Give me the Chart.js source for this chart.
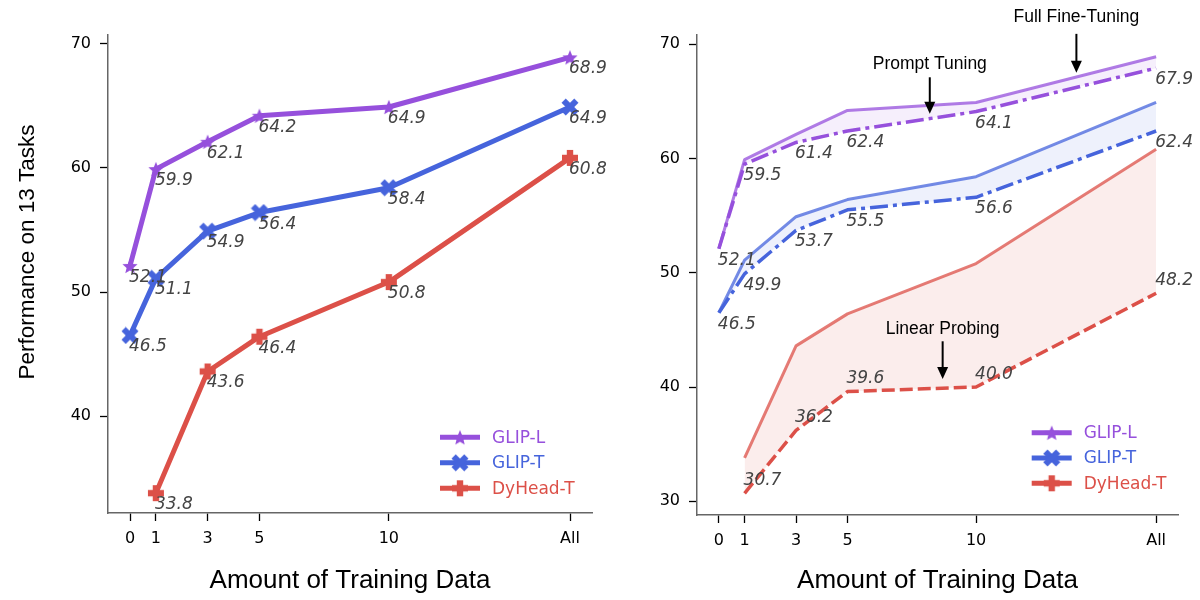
<!DOCTYPE html>
<html>
<head>
<meta charset="utf-8">
<script src="https://cdn.jsdelivr.net/npm/chart.js@4.4.1/dist/chart.umd.min.js"></script>
<style>
body { margin: 0; background: #fff; }
#wrap { position: relative; width: 1200px; height: 600px; }
#left { position: absolute; left: 0; top: 0; }
#right { position: absolute; left: 600px; top: 0; }
</style>
</head>
<body>
<div id="wrap">
  <canvas id="left" width="640" height="600"></canvas>
  <canvas id="right" width="600" height="600"></canvas>
</div>
<script>
// x positions of the training-data steps ("All" sits at 17 on the axis)
const xSteps = [0, 1, 3, 5, 10, 17];
const xTickLabels = ['0', '1', '3', '5', '10', 'All'];

// full fine-tuning
const glipL = [52.1, 59.9, 62.1, 64.2, 64.9, 68.9];
const glipT = [46.5, 51.1, 54.9, 56.4, 58.4, 64.9];
const dyheadT = [null, 33.8, 43.6, 46.4, 50.8, 60.8];

// prompt tuning / linear probing
const glipLPrompt = [52.1, 59.5, 61.4, 62.4, 64.1, 67.9];
const glipTPrompt = [46.5, 49.9, 53.7, 55.5, 56.6, 62.4];
const dyheadLinear = [null, 30.7, 36.2, 39.6, 40.0, 48.2];

const leftTicksY = [40, 50, 60, 70];
const rightTicksY = [30, 40, 50, 60, 70];

// arrows on the right panel (data coordinates)
const notes = [
    { text: 'Prompt Tuning', x: 8.2, textY: 67.85, from: 67.1, to: 63.9 },
    { text: 'Full Fine-Tuning', x: 13.9, textY: 71.95, from: 70.9, to: 67.5 },
    { text: 'Linear Probing', x: 8.7, textY: 44.6, from: 44.0, to: 40.7 }
];

const PURPLE = '#9650dc';
const BLUE = '#4664dc';
const RED = '#dc5048';

function pts(arr) {
    return xSteps.map((x, i) => ({ x: x, y: arr[i] })).filter(p => p.y !== null);
}

function marker(shape, color) {
    const size = 18;
    const c = document.createElement('canvas');
    c.width = c.height = size;
    const g = c.getContext('2d');
    g.fillStyle = color;
    g.translate(size / 2, size / 2);
    if (shape === 'star') {
        g.beginPath();
        for (let k = 0; k < 10; k++) {
            const r = k % 2 === 0 ? 8 : 3.6;
            const a = -Math.PI / 2 + k * Math.PI / 5;
            g.lineTo(r * Math.cos(a), r * Math.sin(a) + 0.8);
        }
        g.closePath();
        g.fill();
    } else if (shape === 'x') {
        g.rotate(Math.PI / 4);
        g.fillRect(-9, -3, 18, 6);
        g.fillRect(-3, -9, 6, 18);
    } else {
        g.fillRect(-8, -3.2, 16, 6.4);
        g.fillRect(-3.2, -8, 6.4, 16);
    }
    return c;
}

const starL = marker('star', PURPLE);
const xT = marker('x', BLUE);
const plusD = marker('plus', RED);

const legendItems = [
    { label: 'GLIP-L', color: PURPLE, marker: starL },
    { label: 'GLIP-T', color: BLUE, marker: xT },
    { label: 'DyHead-T', color: RED, marker: plusD }
];

const valueLabels = {
    id: 'valueLabels',
    afterDatasetsDraw(chart) {
        const ctx = chart.ctx;
        chart.data.datasets.forEach((ds, i) => {
            if (ds.valueDy === undefined) return;
            const meta = chart.getDatasetMeta(i);
            ctx.save();
            ctx.font = 'italic 17px "DejaVu Sans"';
            ctx.fillStyle = '#444';
            ctx.textAlign = 'left';
            ctx.textBaseline = 'alphabetic';
            meta.data.forEach((p, j) => {
                ctx.fillText(ds.data[j].y.toFixed(1), p.x - 1, p.y + ds.valueDy);
            });
            ctx.restore();
        });
    }
};

const cornerLegend = {
    id: 'cornerLegend',
    afterDraw(chart, args, opts) {
        const ctx = chart.ctx;
        const area = chart.chartArea;
        legendItems.forEach((it, i) => {
            const x0 = area.right - opts.right;
            const y = area.bottom - opts.bottom + i * opts.gap;
            ctx.save();
            ctx.strokeStyle = it.color;
            ctx.lineWidth = 5;
            ctx.beginPath();
            ctx.moveTo(x0, y);
            ctx.lineTo(x0 + 40, y);
            ctx.stroke();
            ctx.drawImage(it.marker, x0 + 20 - it.marker.width / 2, y - it.marker.height / 2);
            ctx.fillStyle = it.color;
            ctx.font = '17px "DejaVu Sans"';
            ctx.textBaseline = 'middle';
            ctx.fillText(it.label, x0 + 52, y + 1);
            ctx.restore();
        });
    }
};

// y title drawn by hand: it sits a little above the axis middle
const sideTitle = {
    id: 'sideTitle',
    afterDraw(chart, args, opts) {
        const ctx = chart.ctx;
        const area = chart.chartArea;
        ctx.save();
        ctx.translate(opts.x, (area.top + area.bottom) / 2 + opts.dy);
        ctx.rotate(-Math.PI / 2);
        ctx.font = '22.5px "Liberation Sans"';
        ctx.fillStyle = '#000';
        ctx.textAlign = 'center';
        ctx.textBaseline = 'middle';
        ctx.fillText(opts.text, 0, 0);
        ctx.restore();
    }
};

const arrowNotes = {
    id: 'arrowNotes',
    afterDraw(chart) {
        const ctx = chart.ctx;
        const xs = chart.scales.x, ys = chart.scales.y;
        notes.forEach(n => {
            const x = xs.getPixelForValue(n.x);
            const y0 = ys.getPixelForValue(n.from);
            const y1 = ys.getPixelForValue(n.to);
            ctx.save();
            ctx.fillStyle = '#000';
            ctx.strokeStyle = '#000';
            ctx.font = '17.5px "Liberation Sans"';
            ctx.textAlign = 'center';
            ctx.fillText(n.text, x, ys.getPixelForValue(n.textY));
            ctx.lineWidth = 2;
            ctx.beginPath();
            ctx.moveTo(x, y0);
            ctx.lineTo(x, y1 - 10);
            ctx.stroke();
            ctx.beginPath();
            ctx.moveTo(x - 5.5, y1 - 12);
            ctx.lineTo(x + 5.5, y1 - 12);
            ctx.lineTo(x, y1);
            ctx.closePath();
            ctx.fill();
            ctx.restore();
        });
    }
};

function axes(yMin, yMax, yTicks, yWidth, xHeight) {
    const grid = { display: true, drawOnChartArea: false, drawTicks: true, tickLength: 8,
                   tickColor: '#000', tickWidth: 1.3 };
    const border = { display: true, color: '#666', width: 1.5 };
    return {
        x: {
            type: 'linear', min: -0.85, max: 17.85,
            afterBuildTicks: s => { s.ticks = xSteps.map(v => ({ value: v })); },
            afterFit: s => { s.height = xHeight; },
            ticks: {
                autoSkip: false, maxRotation: 0, padding: 8, color: '#000',
                font: { family: 'DejaVu Sans', size: 16 },
                callback: v => xTickLabels[xSteps.indexOf(v)]
            },
            grid: grid, border: border,
            title: { display: true, text: 'Amount of Training Data', color: '#000',
                     font: { family: 'Liberation Sans', size: 26 }, padding: { top: 0, bottom: 4 } }
        },
        y: {
            min: yMin, max: yMax,
            afterBuildTicks: s => { s.ticks = yTicks.map(v => ({ value: v })); },
            afterFit: s => { s.width = yWidth; },
            ticks: { padding: 9, color: '#000', font: { family: 'DejaVu Sans', size: 16 } },
            grid: grid, border: border
        }
    };
}

function line(label, arr, color, extra) {
    return Object.assign({
        label: label, data: pts(arr), borderColor: color, backgroundColor: color,
        borderWidth: 5, tension: 0, pointRadius: 0, fill: false, borderJoinStyle: 'round'
    }, extra);
}

new Chart(document.getElementById('left'), {
    type: 'line',
    data: {
        datasets: [
            line('GLIP-L', glipL, PURPLE, { pointStyle: starL, pointRadius: 8, valueDy: 16 }),
            line('GLIP-T', glipT, BLUE, { pointStyle: xT, pointRadius: 8, valueDy: 16 }),
            line('DyHead-T', dyheadT, RED, { pointStyle: plusD, pointRadius: 8, valueDy: 16 })
        ]
    },
    options: {
        responsive: false,
        animation: false,
        layout: { padding: { left: 0, top: 35, right: 48, bottom: 0 } },
        scales: axes(32.2, 70.7, leftTicksY, 108, 87),
        plugins: {
            legend: { display: false },
            tooltip: { enabled: false },
            cornerLegend: { right: 152, bottom: 75.7, gap: 25.5 },
            sideTitle: { text: 'Performance on 13 Tasks', x: 28, dy: -22 }
        }
    },
    plugins: [valueLabels, cornerLegend, sideTitle]
});

new Chart(document.getElementById('right'), {
    type: 'line',
    data: {
        datasets: [
            line('GLIP-L full', glipL, 'rgba(150,80,220,0.75)', { borderWidth: 3 }),
            line('GLIP-L prompt', glipLPrompt, PURPLE, { borderWidth: 3.5, borderDash: [18, 5, 4, 5],
                 fill: '-1', backgroundColor: 'rgba(150,80,220,0.09)', valueDy: 16 }),
            line('GLIP-T full', glipT, 'rgba(70,100,220,0.75)', { borderWidth: 3 }),
            line('GLIP-T prompt', glipTPrompt, BLUE, { borderWidth: 3.5, borderDash: [18, 5, 4, 5],
                 fill: '-1', backgroundColor: 'rgba(70,100,220,0.09)', valueDy: 16 }),
            line('DyHead-T full', dyheadT, 'rgba(220,80,72,0.75)', { borderWidth: 3 }),
            line('DyHead-T linear', dyheadLinear, RED, { borderWidth: 3.5, borderDash: [13, 5],
                 fill: '-1', backgroundColor: 'rgba(220,80,72,0.1)', valueDy: -8.5 })
        ]
    },
    options: {
        responsive: false,
        animation: false,
        layout: { padding: { left: 0, top: 35, right: 22, bottom: 0 } },
        scales: axes(28.8, 70.8, rightTicksY, 97, 85),
        plugins: {
            legend: { display: false },
            tooltip: { enabled: false },
            filler: { propagate: false },
            cornerLegend: { right: 146.3, bottom: 82.3, gap: 25.3 }
        }
    },
    plugins: [valueLabels, cornerLegend, arrowNotes]
});
</script>
</body>
</html>
